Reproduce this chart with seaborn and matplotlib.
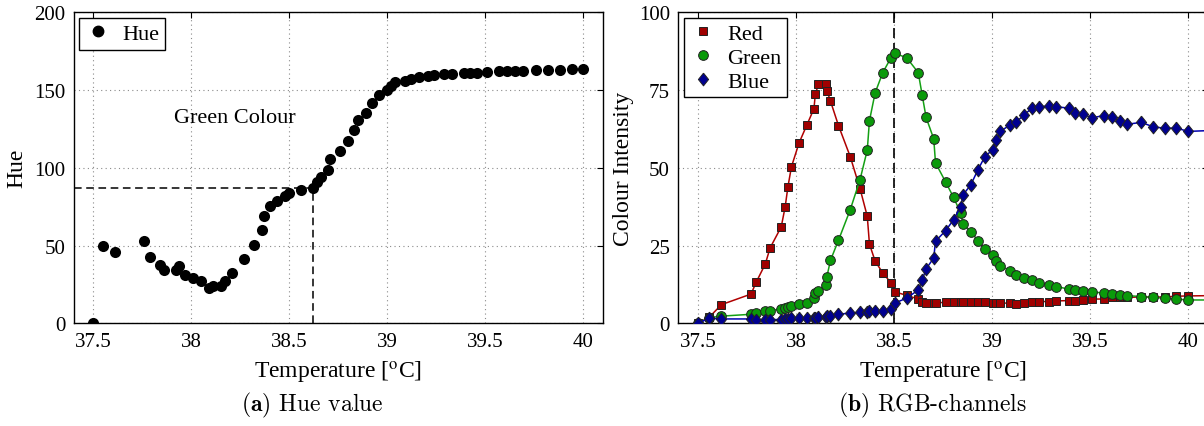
import matplotlib
matplotlib.use("Agg")
import matplotlib.pyplot as plt
from matplotlib.lines import Line2D
import seaborn as sns

# ---- Hue measurements -------------------------------------------------
hue_temp = [37.50, 37.55, 37.61, 37.76, 37.79, 37.84, 37.86, 37.92, 37.94, 37.97,
            38.01, 38.05, 38.09, 38.11, 38.15, 38.17, 38.21, 38.27, 38.32, 38.36,
            38.37, 38.40, 38.44, 38.48, 38.50, 38.56, 38.62, 38.64, 38.66, 38.70,
            38.71, 38.76, 38.80, 38.83, 38.85, 38.89, 38.92, 38.96, 39.00, 39.02,
            39.04, 39.09, 39.12, 39.16, 39.21, 39.24, 39.29, 39.33, 39.39, 39.42,
            39.46, 39.51, 39.57, 39.61, 39.65, 39.69, 39.76, 39.82, 39.88, 39.94,
            40.00]
hue_value = [0.0, 49.7, 46.1, 52.7, 42.9, 37.7, 34.5, 34.5, 37.1, 30.9,
             29.4, 27.2, 22.9, 23.8, 24.2, 27.0, 32.4, 41.2, 50.6, 60.2,
             69.0, 75.5, 78.9, 81.7, 84.0, 85.7, 86.8, 90.7, 94.1, 98.4,
             105.7, 111.0, 117.0, 124.3, 131.0, 135.5, 141.7, 146.6, 149.8, 152.4,
             155.0, 156.1, 157.1, 158.2, 159.1, 159.7, 160.1, 160.6, 161.0, 161.0,
             161.2, 161.6, 162.1, 162.1, 162.1, 162.2, 162.9, 162.9, 162.9, 163.3,
             163.6]
hue_ref_temp = 38.62
hue_ref_value = 86.8
hue_note = "Green Colour"
hue_note_pos = (38.22, 132.5)

# ---- RGB channel measurements ------------------------------------------
rgb_temp = [37.500, 37.557, 37.620, 37.771, 37.798, 37.844, 37.868, 37.925, 37.945, 37.959,
            37.977, 38.016, 38.056, 38.092, 38.099, 38.115, 38.153, 38.158, 38.176, 38.217,
            38.277, 38.327, 38.364, 38.375, 38.404, 38.443, 38.485, 38.504, 38.565, 38.624,
            38.644, 38.664, 38.703, 38.712, 38.764, 38.804, 38.841, 38.852, 38.892, 38.928,
            38.963, 39.003, 39.023, 39.042, 39.093, 39.125, 39.162, 39.204, 39.240, 39.290,
            39.329, 39.392, 39.424, 39.462, 39.512, 39.571, 39.611, 39.652, 39.690, 39.761,
            39.822, 39.883, 39.941, 40.000, 40.120]
red = [0.0, 1.9, 6.0, 9.4, 13.3, 19.1, 24.2, 31.0, 37.4, 43.8,
       50.3, 58.0, 63.8, 69.0, 73.7, 76.8, 76.8, 74.8, 71.5, 63.6,
       53.6, 43.3, 34.4, 25.5, 20.0, 16.2, 13.0, 10.1, 9.0, 7.8,
       6.8, 6.5, 6.5, 6.5, 6.8, 6.8, 6.8, 6.8, 6.8, 6.8,
       6.8, 6.6, 6.6, 6.6, 6.4, 6.3, 6.5, 6.9, 7.0, 7.0,
       7.2, 7.3, 7.3, 7.5, 7.8, 7.8, 8.3, 8.3, 8.3, 8.5,
       8.4, 8.5, 8.7, 8.8, 8.9]
green = [0.0, 1.8, 2.3, 2.9, 3.3, 3.8, 4.1, 4.6, 4.9, 5.1,
         5.5, 6.1, 6.5, 8.0, 9.8, 10.5, 12.4, 15.0, 20.2, 26.7,
         36.5, 46.2, 55.7, 65.1, 74.1, 80.6, 85.4, 86.8, 85.4, 80.6,
         73.4, 66.2, 59.3, 51.6, 45.4, 40.5, 35.4, 31.9, 29.5, 26.6,
         23.9, 22.1, 20.0, 18.5, 16.9, 15.6, 14.7, 13.9, 13.0, 12.3,
         11.8, 11.0, 10.7, 10.4, 10.0, 9.8, 9.5, 9.2, 8.9, 8.6,
         8.3, 8.1, 7.8, 7.5, 7.5]
blue = [0.0, 1.6, 1.4, 1.4, 1.1, 1.2, 1.2, 1.2, 1.4, 1.4,
        1.6, 1.6, 1.6, 1.6, 1.8, 1.9, 2.0, 2.2, 2.5, 2.9,
        3.3, 3.5, 3.7, 3.8, 4.0, 4.1, 4.7, 6.5, 8.1, 10.7,
        13.9, 17.5, 21.0, 26.4, 29.8, 33.3, 37.5, 41.3, 44.5, 49.3,
        53.5, 55.8, 58.8, 61.7, 63.8, 64.8, 66.9, 69.2, 69.6, 69.9,
        69.6, 69.2, 67.5, 67.2, 66.1, 66.8, 66.3, 65.1, 64.0, 64.6,
        63.2, 62.7, 62.8, 61.7, 62.0]
rgb_ref_temp = 38.5

channel_names = ["Red", "Green", "Blue"]
channel_values = [red, green, blue]

# ---- Axis settings -----------------------------------------------------
x_limits = (37.4, 40.1)
x_ticks = [37.5, 38, 38.5, 39, 39.5, 40]
x_tick_labels = ["37.5", "38", "38.5", "39", "39.5", "40"]
hue_ticks = [0, 50, 100, 150, 200]
rgb_ticks = [0, 25, 50, 75, 100]
x_label = r"Temperature [$^{\mathrm{o}}$C]"

# ---- Style -------------------------------------------------------------
sns.set_theme(style="white")
plt.rcParams["font.family"] = ["Liberation Serif", "DejaVu Serif"]
plt.rcParams["mathtext.fontset"] = "stix"
for key in ("text.color", "axes.labelcolor", "xtick.color", "ytick.color"):
    plt.rcParams[key] = "black"

# MATLAB-like diamond: taller than it is wide
diamond = [(0, 1), (0.8, 0), (0, -1), (-0.8, 0), (0, 1)]

line_colors = {"Red": "#b00000", "Green": "#14a014", "Blue": "#0000b0"}
face_colors = {"Red": "#a00000", "Green": "#0a9a0a", "Blue": "#000090"}
markers = {"Red": "s", "Green": "o", "Blue": diamond}
marker_sizes = {"Red": 6.2, "Green": 7.0, "Blue": 9.2}

W, H = 1204, 427
fig = plt.figure(figsize=(W / 100, H / 100), dpi=100)
ax1 = fig.add_axes([73.6 / W, 102.7 / H, 529.3 / W, 311.0 / H])
ax2 = fig.add_axes([678.3 / W, 102.7 / H, 529.3 / W, 311.0 / H])


def style_axes(ax, yticks, ylabel):
    ax.set_xlim(*x_limits)
    ax.set_ylim(yticks[0], yticks[-1])
    ax.set_xticks(x_ticks)
    ax.set_xticklabels(x_tick_labels)
    ax.set_yticks(yticks)
    ax.set_yticklabels([str(t) for t in yticks])
    ax.grid(True, linestyle=(0, (1, 3)), color="#8a8a8a", linewidth=0.8)
    ax.tick_params(direction="in", top=True, right=True, length=4, width=0.8,
                   labelsize=15, pad=6, colors="black")
    for sp in ax.spines.values():
        sp.set_color("black")
        sp.set_linewidth(1.0)
    ax.set_xlabel(x_label, fontsize=17)
    ax.set_ylabel(ylabel, fontsize=17)
    ax.xaxis.set_label_coords(0.5, -0.115)
    ax.set_axisbelow(True)


# ---- (a) Hue ------------------------------------------------------------
sns.scatterplot(x=hue_temp, y=hue_value, ax=ax1, color="black", s=64,
                linewidth=0, zorder=3, legend=False)
ax1.hlines(hue_ref_value, x_limits[0], hue_ref_temp, colors="black",
           linestyles=(0, (5, 3)), linewidth=1.1, zorder=2)
ax1.vlines(hue_ref_temp, 0, hue_ref_value, colors="black",
           linestyles=(0, (5, 3)), linewidth=1.1, zorder=2)
ax1.text(hue_note_pos[0], hue_note_pos[1], hue_note, fontsize=16,
         ha="center", va="center")
style_axes(ax1, hue_ticks, "Hue")
ax1.yaxis.set_label_coords(-0.088, 0.5)
hue_handle = Line2D([], [], linestyle="none", marker="o", color="black",
                    markersize=7.5)
leg1 = ax1.legend([hue_handle], ["Hue"], loc="upper left", fontsize=16,
                  frameon=True, fancybox=False, framealpha=1, edgecolor="black",
                  handlelength=1.2, handletextpad=0.5, borderpad=0.25,
                  borderaxespad=0.25)
leg1.get_frame().set_linewidth(1.0)

# ---- (b) RGB channels ---------------------------------------------------
handles = []
for name, vals in zip(channel_names, channel_values):
    sns.lineplot(x=rgb_temp, y=vals, ax=ax2, color=line_colors[name],
                 linewidth=1.1, marker=markers[name],
                 markersize=marker_sizes[name],
                 markerfacecolor=face_colors[name], markeredgecolor="#222222",
                 markeredgewidth=0.7, sort=False, legend=False, zorder=3)
    handles.append(Line2D([], [], linestyle="none", marker=markers[name],
                          markersize=marker_sizes[name],
                          markerfacecolor=face_colors[name],
                          markeredgecolor="#222222", markeredgewidth=0.7))
ax2.axvline(rgb_ref_temp, color="black", linestyle=(0, (6, 3)),
            linewidth=1.2, zorder=2)
style_axes(ax2, rgb_ticks, "Colour Intensity")
ax2.yaxis.set_label_coords(-0.084, 0.5)
leg2 = ax2.legend(handles, channel_names, loc="upper left", fontsize=16,
                  frameon=True, fancybox=False, framealpha=1, edgecolor="black",
                  handlelength=1.2, handletextpad=0.5, borderpad=0.25,
                  labelspacing=0.15, borderaxespad=0.25)
leg2.get_frame().set_linewidth(1.0)

# ---- Sub-figure captions ------------------------------------------------
fig.text(312 / W, 1 - 405 / H, r"$\mathbf{(a)}$ Hue value", fontsize=17,
         family="cmr10", math_fontfamily="cm", ha="center", va="center")
fig.text(932 / W, 1 - 405 / H, r"$\mathbf{(b)}$ RGB-channels", fontsize=17,
         family="cmr10", math_fontfamily="cm", ha="center", va="center")

fig.savefig("out.png", dpi=100)
